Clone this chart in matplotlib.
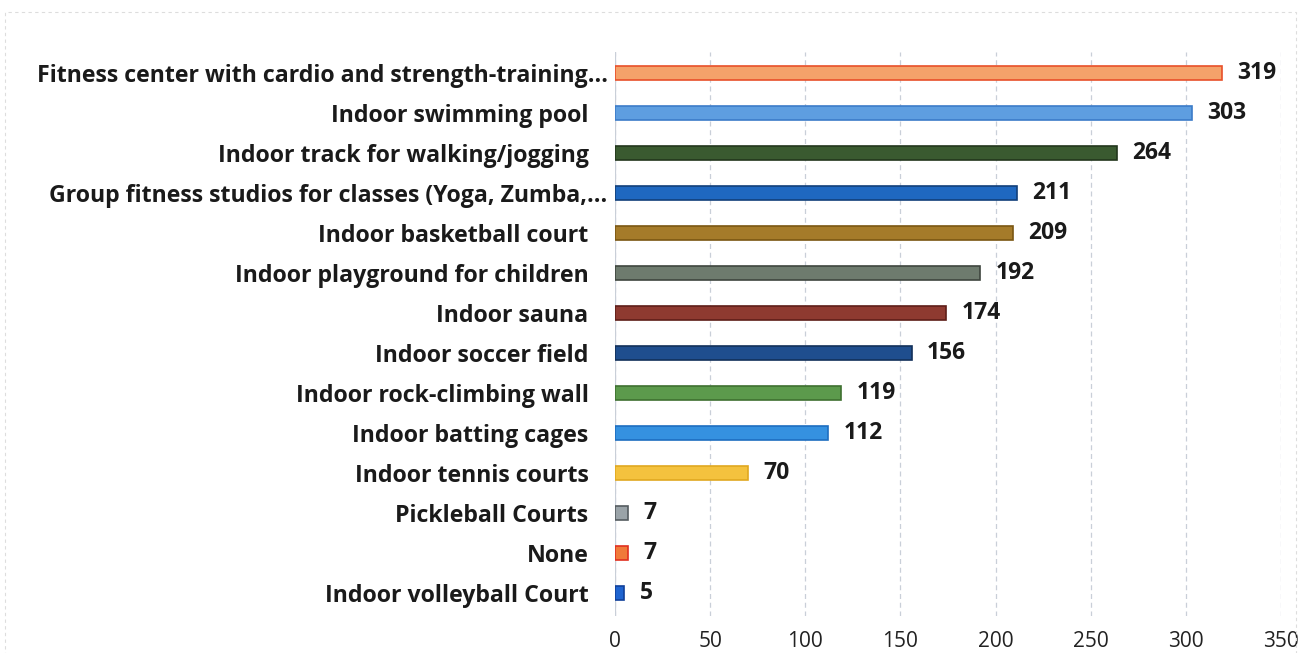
import matplotlib.pyplot as plt
from matplotlib.transforms import ScaledTranslation

categories = ["Fitness center with cardio and strength-training...",
              "Indoor swimming pool",
              "Indoor track for walking/jogging",
              "Group fitness studios for classes (Yoga, Zumba,...",
              "Indoor basketball court",
              "Indoor playground for children",
              "Indoor sauna",
              "Indoor soccer field",
              "Indoor rock-climbing wall",
              "Indoor batting cages",
              "Indoor tennis courts",
              "Pickleball Courts",
              "None",
              "Indoor volleyball Court"]
counts = [319, 303, 264, 211, 209, 192, 174, 156, 119, 112, 70, 7, 7, 5]
bar_colors = ["#F4A26A", "#5E9EE0", "#3A5A30", "#1F68C0", "#A57B2A", "#6E7B6E", "#8E3A30",
              "#1F4E8E", "#5C9A4C", "#3591E0", "#F4C23E", "#9AA3A8", "#F07A3A", "#1F64D0"]
edge_colors = ["#E8502A", "#3C7CC8", "#22361C", "#12407A", "#7A5612", "#3E463E", "#5E1E18",
               "#12305A", "#3E7030", "#1E6EC0", "#E0A820", "#555C60", "#E03020", "#10409A"]
xticks = [0, 50, 100, 150, 200, 250, 300, 350]

plt.rcParams['font.family'] = ['Open Sans', 'DejaVu Sans']

fig = plt.figure(figsize=(13.04, 6.53), dpi=100)
ax = fig.add_axes([0.4716, 0.0567, 0.5108, 0.863])

ypos = list(range(len(categories)))[::-1]
ax.barh(ypos, counts, height=0.36, color=bar_colors, edgecolor=edge_colors, linewidth=1.2, zorder=3)

for y, v in zip(ypos, counts):
    ax.text(v + 8, y, str(v), va='center', ha='left', fontsize=16.5, fontweight='bold', color='#1a1a1a')

ax.set_yticks(ypos)
ax.set_yticklabels(categories, fontsize=16.7, fontweight='bold', color='#1a1a1a')
ax.set_xticks(xticks)
ax.set_xticklabels([str(t) for t in xticks], fontsize=15, color='#222222')
ax.set_xlim(0, 350)
ax.set_ylim(-0.58, 13.52)
ax.tick_params(axis='both', length=0)
ax.tick_params(axis='y', pad=19)
ax.tick_params(axis='x', pad=11)
ax.grid(axis='x', linestyle=(0, (4, 3)), color='#c9cfd8', linewidth=0.9, zorder=0)
ax.axvline(0, color='#c9cfd8', linewidth=0.9, zorder=1)
for s in ax.spines.values():
    s.set_visible(False)

# truncated labels sit a bit further right, like in the original
for lbl in ax.get_yticklabels():
    if lbl.get_text().endswith("..."):
        lbl.set_transform(lbl.get_transform() + ScaledTranslation(0.19, 0, fig.dpi_scale_trans))

# outer chart border
fig.patches.append(plt.Rectangle((0.004, -0.01), 0.99, 0.992, transform=fig.transFigure,
                                 fill=False, edgecolor='#dddddd', linewidth=0.8, linestyle=(0, (3, 3))))

fig.savefig("out.png", dpi=100)
